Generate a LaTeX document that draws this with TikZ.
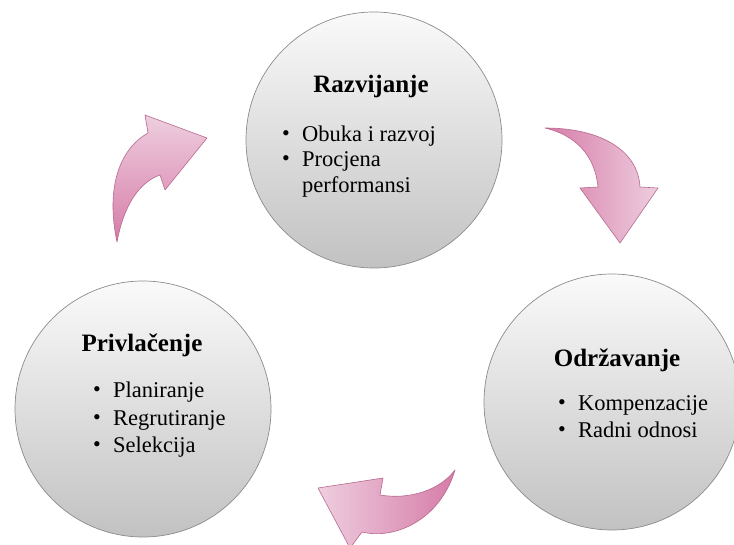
\documentclass[tikz,border=0pt]{standalone}
\usepackage{fontspec}
\setmainfont{Liberation Serif}

\definecolor{ruzaSvijetla}{RGB}{238,206,223}
\definecolor{ruzaTamna}{RGB}{214,124,167}
\definecolor{ruzaRub}{RGB}{184,104,144}

\tikzset{
  krug/.style={circle, draw=gray!90, line width=0.7pt, minimum size=256pt, inner sep=0pt,
               top color=gray!4, bottom color=gray!48},
  naslov/.style={font=\fontsize{25}{30}\selectfont\bfseries, anchor=base, inner sep=0pt},
  stavka/.style={font=\fontsize{22.5}{27}\selectfont, anchor=base west, inner sep=0pt},
  strelica/.style={draw=ruzaRub, line width=0.6pt, line join=round}
}
\newcommand{\tacka}{\makebox[20pt][l]{\fontsize{22}{22}\selectfont\raisebox{1pt}{\textbullet}}}

\begin{document}
\begin{tikzpicture}[x=1pt,y=-1pt]
\useasboundingbox (0,0) rectangle (734,545);

% krugovi
\node[krug] (razvijanje) at (374,140) {};
\node[krug] (privlacenje) at (143,409) {};
\node[krug] (odrzavanje) at (612,402) {};

% Razvijanje
\node[naslov] (tRaz) at (371,93) {Razvijanje};
\foreach \tekst/\y [count=\i] in {Obuka i razvoj/142, Procjena/167}
   \node[stavka] (sRaz\i) at (282,\y) {\tacka\tekst};
\node[stavka] (sRaz3) at (302,193) {performansi};

% Privlacenje
\node[naslov] (tPri) at (142,352) {Privlačenje};
\foreach \tekst/\y [count=\i] in {Planiranje/398, Regrutiranje/425, Selekcija/452}
   \node[stavka] (sPri\i) at (93,\y) {\tacka\tekst};

% Odrzavanje
\node[naslov] (tOdr) at (617,367) {Održavanje};
\foreach \tekst/\y [count=\i] in {Kompenzacije/410, Radni odnosi/437}
   \node[stavka] (sOdr\i) at (558,\y) {\tacka\tekst};

% strelice
\draw[strelica, top color=ruzaSvijetla, bottom color=ruzaTamna]
   (117,242) .. controls (106,190) and (118,150) .. (148,133) -- (145,115) -- (207,138)
   -- (165,190) -- (160,175) .. controls (140,182) and (124,204) .. (117,242) -- cycle;

\draw[strelica, left color=ruzaTamna, right color=ruzaSvijetla]
   (545,128) .. controls (600,128) and (638,150) .. (640,187) -- (658,188) -- (620,243)
   -- (580,188) -- (598,187) .. controls (595,155) and (575,135) .. (545,128) -- cycle;

\draw[strelica, left color=ruzaSvijetla, right color=ruzaTamna]
   (455,470) .. controls (440,520) and (395,540) .. (362,532) -- (350,548) -- (318,488)
   -- (383,478) -- (380,495) .. controls (410,500) and (440,490) .. (455,470) -- cycle;

\end{tikzpicture}
\end{document}
